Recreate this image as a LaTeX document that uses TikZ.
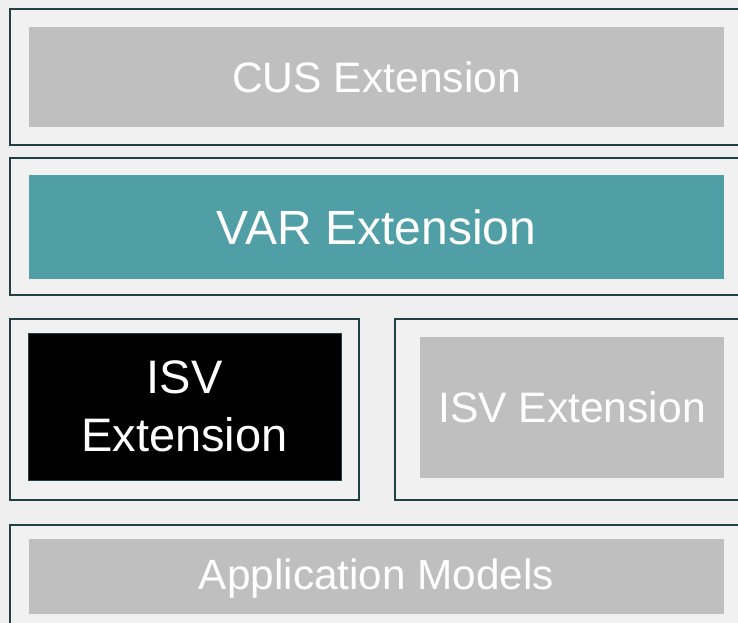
\documentclass[tikz,border=0pt]{standalone}
\usepackage{fontspec}
\setmainfont{Liberation Sans}
\definecolor{bgc}{HTML}{EFEFEF}
\definecolor{framefill}{HTML}{F1F1F1}
\definecolor{framec}{HTML}{1F4045}
\definecolor{grayc}{HTML}{BFBFBF}
\definecolor{tealc}{HTML}{519FA6}
\tikzset{
  frame/.style={draw=framec, line width=2.4pt, fill=framefill},
  box/.style={inner sep=0pt, outer sep=0pt, text=white, align=center},
  graybox/.style={box, fill=grayc, font=\fontsize{42.6}{50}\selectfont},
  tealbox/.style={box, fill=tealc, font=\fontsize{48}{56}\selectfont},
  blackbox/.style={box, fill=black, draw=framec, line width=1pt, font=\fontsize{47}{58}\selectfont},
}
\begin{document}
\begin{tikzpicture}[x=1pt,y=-1pt]
\useasboundingbox (0,0) rectangle (738,623);
\fill[bgc] (0,0) rectangle (738,623);
\begin{scope}
\clip (0,0) rectangle (738,623);
\node[frame, inner sep=0pt, anchor=north west, minimum width=745pt, minimum height=136pt] (f1) at (9,8) {};
\node[frame, inner sep=0pt, anchor=north west, minimum width=745pt, minimum height=137pt] (f2) at (9,157) {};
\node[frame, inner sep=0pt, anchor=north west, minimum width=349pt, minimum height=181pt] (f3l) at (9,318) {};
\node[frame, inner sep=0pt, anchor=north west, minimum width=360pt, minimum height=181pt] (f3r) at (394,318) {};
\node[frame, inner sep=0pt, anchor=north west, minimum width=745pt, minimum height=130pt] (f4) at (9,524) {};
\end{scope}
\node[graybox, minimum width=695pt, minimum height=100pt] (cus) at (376.5,77) {CUS Extension};
\node[tealbox, minimum width=695pt, minimum height=104pt] (var) at (376.5,227) {VAR Extension};
\node[blackbox, minimum width=313pt, minimum height=147pt] (isvl) at (184.5,406.5) {ISV\\Extension};
\node[graybox, minimum width=304pt, minimum height=141pt] (isvr) at (572,407.5) {ISV Extension};
\node[graybox, minimum width=695pt, minimum height=75pt] (app) at (376.5,576.5) {};
\node[box, font=\fontsize{42.3}{50}\selectfont] (apptext) at (376.5,579) {Application Models};
\end{tikzpicture}
\end{document}
